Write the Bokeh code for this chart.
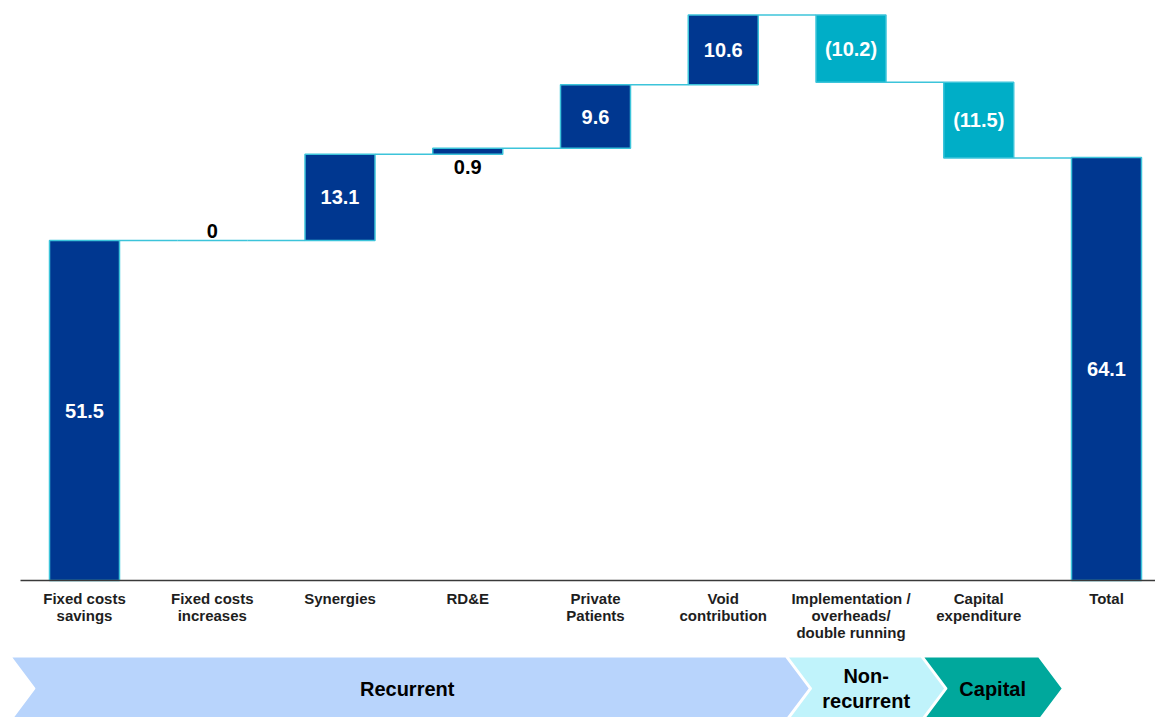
import numpy as np
from bokeh.plotting import figure
from bokeh.models import Range1d, ColumnDataSource
from bokeh.embed import file_html
from bokeh.resources import INLINE
from bokeh.core.properties import value

# ---- data ----
categories = ["Fixed costs\nsavings", "Fixed costs\nincreases", "Synergies", "RD&E",
              "Private\nPatients", "Void\ncontribution",
              "Implementation /\noverheads/\ndouble running", "Capital\nexpenditure", "Total"]
changes = [51.5, 0.0, 13.1, 0.9, 9.6, 10.6, -10.2, -11.5]
total_value = 64.1
group_labels = ["Recurrent", "Non-\nrecurrent", "Capital"]
group_colors = ["#b8d4fc", "#c0f3fb", "#00a89c"]

# ---- layout constants ----
W, H = 1155, 717
PX_X = 127.75          # px per category
PX_Y = 6.6             # px per unit
X0 = -84 / PX_X
Y1 = 580 / PX_Y
px = lambda d: d / PX_X
py = lambda d: d / PX_Y

DARK = "#003790"
NEG = "#00aec7"
EDGE = "#3cc4da"
FONT = "Liberation Sans"

n = len(changes)
idx = np.arange(n + 1)
cum = np.concatenate([[0.0], np.cumsum(changes)])
bottoms = list(np.minimum(cum[:-1], cum[1:])) + [0.0]
tops = list(np.maximum(cum[:-1], cum[1:])) + [total_value]
fills = [DARK if v >= 0 else NEG for v in changes] + [DARK]
vals = changes + [total_value]

def fmt(v):
    if v == 0:
        return "0"
    return f"{v:.1f}" if v > 0 else f"({abs(v):.1f})"

p = figure(width=W, height=H, x_range=Range1d(X0, X0 + px(W)),
           y_range=Range1d(Y1 - py(H), Y1), output_backend="svg",
           toolbar_location=None, min_border=0)
p.axis.visible = False
p.grid.visible = False
p.outline_line_color = None

bar_w = px(70)

# connectors
cx0 = idx[:-1] + bar_w / 2
cx1 = idx[1:] - bar_w / 2
p.segment(x0=cx0, y0=cum[1:], x1=cx1, y1=cum[1:], line_color=EDGE, line_width=1.5)

# bars
src = ColumnDataSource(dict(x=idx, top=tops, bottom=bottoms, color=fills))
p.vbar(x="x", top="top", bottom="bottom", width=bar_w, source=src,
       fill_color="color", line_color=EDGE, line_width=1.5)

# axis baseline
p.segment(x0=[X0 + px(20)], y0=[0], x1=[X0 + px(W)], y1=[0], line_color="#3a3a3a", line_width=1.5)

# value labels
in_x, in_y, in_t = [], [], []
ab_x, ab_y, ab_t = [], [], []
be_x, be_y, be_t = [], [], []
for i, v in enumerate(vals):
    t = fmt(v)
    if v == 0:
        ab_x.append(i); ab_y.append(tops[i] + py(3)); ab_t.append(t)
    elif abs(v) < 2:
        be_x.append(i); be_y.append(bottoms[i] - py(6)); be_t.append(t)
    else:
        in_x.append(i); in_y.append((tops[i] + bottoms[i]) / 2); in_t.append(t)

common = dict(text_font=value(FONT), text_font_style="bold", text_font_size="20px", text_align="center")
p.text(x=in_x, y=in_y, text=in_t, text_color="white", text_baseline="middle", **common)
p.text(x=ab_x, y=ab_y, text=ab_t, text_color="black", text_baseline="bottom", **common)
p.text(x=be_x, y=be_y, text=be_t, text_color="black", text_baseline="top", **common)

# category labels
p.text(x=idx, y=[-py(9)] * len(idx), text=categories, text_font=value(FONT),
       text_font_style="bold", text_font_size="15px", text_align="center",
       text_baseline="top", text_color="#1e1e1e", text_line_height=1.0)

# group chevrons
band_left = [X0 + px(10), 5.5, 6.56]
band_right = [5.49, 6.55, 7.47]
depth = px(24)
ytop, ymid, ybot = -py(76), -py(108), -py(140)
xs, ys = [], []
for L, R in zip(band_left, band_right):
    xs.append([L, R, R + depth, R, L, L + depth])
    ys.append([ytop, ytop, ymid, ybot, ybot, ymid])
p.patches(xs=xs, ys=ys, fill_color=group_colors, line_color="white", line_width=2)
lab_x = [(L + R + depth) / 2 for L, R in zip(band_left, band_right)]
lab_x[0] -= px(3)
p.text(x=lab_x, y=[ymid] * 3, text=group_labels, text_font=value(FONT),
       text_font_style="bold", text_font_size="20px", text_align="center",
       text_baseline="middle", text_color="black", text_line_height=1.15)

open("out.html", "w").write(file_html(p, INLINE))
